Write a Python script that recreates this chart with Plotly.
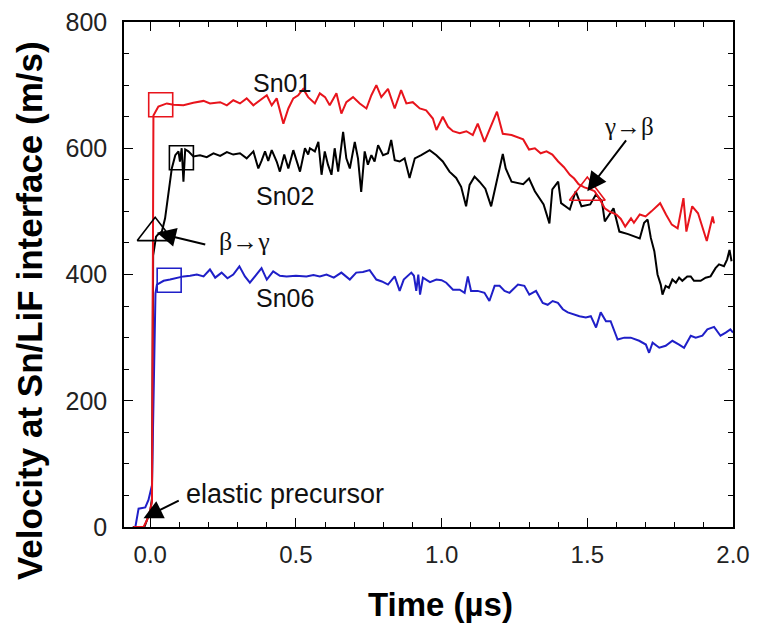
import plotly.graph_objects as go

# ---------------- data ----------------
sn01_t = [-0.058, -0.023, -0.011, 0.0, 0.006, 0.009, 0.011, 0.028, 0.057, 0.08, 0.114, 0.148, 0.183, 0.205,
          0.24, 0.263, 0.285, 0.308, 0.331, 0.354, 0.377, 0.40, 0.417, 0.434, 0.457, 0.474, 0.491, 0.508,
          0.525, 0.542, 0.565, 0.582, 0.60, 0.616, 0.639, 0.656, 0.673, 0.696, 0.719, 0.742, 0.759, 0.776,
          0.793, 0.816, 0.839, 0.861, 0.879, 0.901, 0.925, 0.947, 0.97, 0.982, 1.004, 1.022, 1.039, 1.062,
          1.085, 1.107, 1.124, 1.147, 1.164, 1.19, 1.21, 1.24, 1.28, 1.30, 1.32, 1.34, 1.36, 1.38, 1.40,
          1.42, 1.44, 1.455, 1.47, 1.49, 1.51, 1.525, 1.54, 1.56, 1.575, 1.60, 1.615, 1.63, 1.65, 1.66,
          1.68, 1.70, 1.72, 1.75, 1.77, 1.79, 1.81, 1.83, 1.84, 1.86, 1.88, 1.91, 1.93, 1.935]
sn01_v = [0, 0, 11, 27, 40, 300, 652, 666, 671, 669, 668, 672, 675, 671,
          673, 668, 676, 671, 679, 668, 676, 684, 668, 679, 639, 663, 679, 684,
          694, 681, 671, 687, 681, 668, 687, 655, 673, 681, 671, 663, 684, 700,
          681, 694, 663, 692, 671, 673, 663, 660, 647, 629, 650, 634, 627, 624,
          627, 621, 639, 610, 629, 658, 623, 621, 614, 598, 600, 592, 595, 590, 579,
          570, 558, 552, 543, 538, 535, 532, 521, 505, 500, 495, 488, 476, 489, 482,
          495, 492, 500, 513, 495, 479, 473, 521, 468, 508, 497, 453, 492, 481]

sn02_t = [-0.06, -0.02, 0.0, 0.006, 0.01, 0.02, 0.028, 0.04, 0.051, 0.063, 0.074, 0.086, 0.097, 0.102,
          0.108, 0.114, 0.12, 0.131, 0.148, 0.171, 0.194, 0.217, 0.24, 0.263, 0.285, 0.308, 0.331, 0.354,
          0.371, 0.382, 0.394, 0.405, 0.417, 0.434, 0.445, 0.46, 0.474, 0.491, 0.502, 0.514, 0.531, 0.542,
          0.548, 0.565, 0.577, 0.588, 0.599, 0.61, 0.622, 0.633, 0.645, 0.662, 0.673, 0.685, 0.702, 0.713,
          0.724, 0.736, 0.747, 0.759, 0.77, 0.782, 0.799, 0.816, 0.827, 0.839, 0.856, 0.873, 0.89, 0.908,
          0.93, 0.959, 0.982, 1.004, 1.027, 1.05, 1.067, 1.084, 1.096, 1.113, 1.13, 1.15, 1.17, 1.21, 1.22,
          1.24, 1.28, 1.30, 1.32, 1.35, 1.37, 1.38, 1.40, 1.41, 1.44, 1.46, 1.48, 1.51, 1.53, 1.55, 1.56,
          1.59, 1.61, 1.64, 1.68, 1.695, 1.707, 1.718, 1.73, 1.741, 1.752, 1.758, 1.769, 1.78, 1.792,
          1.804, 1.815, 1.826, 1.843, 1.855, 1.866, 1.889, 1.906, 1.923, 1.94, 1.952, 1.969, 1.98, 1.988,
          1.995]
sn02_v = [0, 0, 25, 45, 430, 460, 464, 468, 489, 526, 568, 589, 595, 579,
          600, 547, 598, 595, 587, 589, 586, 592, 588, 594, 590, 592, 584, 595,
          568, 580, 595, 580, 597, 579, 563, 590, 568, 597, 580, 563, 600, 590,
          600, 595, 610, 558, 595, 574, 558, 600, 563, 626, 584, 568, 610, 584,
          531, 595, 574, 589, 579, 605, 589, 592, 613, 581, 579, 584, 553, 584,
          589, 597, 589, 579, 563, 553, 539, 508, 542, 555, 547, 536, 508, 591, 568,
          547, 543, 552, 532, 511, 481, 535, 547, 513, 503, 532, 508, 511, 527, 516, 484,
          505, 468, 464, 457, 482, 487, 458, 437, 400, 384, 368, 382, 379, 392,
          387, 395, 390, 397, 397, 390, 390, 395, 397, 410, 416, 413, 424, 439,
          421]

sn06_t = [-0.051, -0.04, -0.017, -0.006, 0.006, 0.012, 0.018, 0.023, 0.046, 0.068, 0.091, 0.114, 0.137,
          0.16, 0.183, 0.205, 0.223, 0.245, 0.265, 0.285, 0.306, 0.325, 0.342, 0.36, 0.382, 0.40, 0.422,
          0.445, 0.468, 0.5, 0.536, 0.56, 0.582, 0.605, 0.63, 0.656, 0.685, 0.707, 0.73, 0.753, 0.776,
          0.795, 0.816, 0.839, 0.856, 0.87, 0.896, 0.905, 0.913, 0.92, 0.926, 0.936, 0.96, 0.982, 1.0,
          1.016, 1.039, 1.062, 1.079, 1.09, 1.101, 1.124, 1.147, 1.164, 1.182, 1.199, 1.216, 1.233, 1.262,
          1.284, 1.301, 1.324, 1.347, 1.364, 1.381, 1.399, 1.416, 1.433, 1.45, 1.473, 1.495, 1.512, 1.53,
          1.546, 1.564, 1.58, 1.604, 1.627, 1.649, 1.678, 1.701, 1.712, 1.724, 1.747, 1.769, 1.792, 1.815,
          1.832, 1.855, 1.872, 1.895, 1.912, 1.935, 1.957, 1.975, 1.991, 2.0]
sn06_v = [0, 29, 31, 43, 66, 200, 370, 384, 390, 392, 395, 397, 398,
          400, 397, 408, 395, 403, 394, 400, 413, 397, 387, 397, 410, 392, 405,
          398, 397, 398, 397, 399, 397, 400, 395, 403, 392, 403, 404, 407, 392,
          389, 384, 397, 374, 392, 403, 398, 374, 400, 368, 395, 388, 392, 391,
          387, 376, 376, 371, 397, 374, 374, 371, 358, 382, 382, 374, 371, 384,
          382, 368, 374, 355, 352, 358, 355, 345, 340, 337, 334, 332, 334, 316,
          340, 326, 326, 297, 300, 300, 295, 289, 276, 292, 284, 287, 295, 289,
          284, 303, 300, 303, 313, 317, 303, 308, 313, 308]

# open-square markers (start of plateau) and phase-transition triangles
square_t = [0.036, 0.107, 0.065]
square_v = [669, 585, 391]
square_colors = ["#e8141c", "#000000", "#1f1fc8"]
triangle_t = [0.017, 1.50]
triangle_v = [466, 530]
triangle_colors = ["#000000", "#e8141c"]

x_ticks = [0.0, 0.5, 1.0, 1.5, 2.0]
x_tick_labels = ["0.0", "0.5", "1.0", "1.5", "2.0"]
y_ticks = [0, 200, 400, 600, 800]
y_tick_labels = ["0", "200", "400", "600", "800"]

RED = "#e8141c"
BLUE = "#1f1fc8"
FONT = "Arial, Liberation Sans, Helvetica, sans-serif"
SERIF = "Times New Roman, Liberation Serif, DejaVu Serif, serif"

fig = go.Figure()
fig.add_trace(go.Scatter(x=sn02_t, y=sn02_v, mode="lines", line=dict(color="black", width=2), name="Sn02"))
fig.add_trace(go.Scatter(x=sn06_t, y=sn06_v, mode="lines", line=dict(color=BLUE, width=2), name="Sn06"))
fig.add_trace(go.Scatter(x=sn01_t, y=sn01_v, mode="lines", line=dict(color=RED, width=2), name="Sn01"))
fig.add_trace(go.Scatter(x=square_t, y=square_v, mode="markers",
                         marker=dict(symbol="square-open", size=24, color=square_colors, line=dict(width=1.6))))
fig.add_trace(go.Scatter(x=triangle_t, y=triangle_v, mode="markers",
                         marker=dict(symbol="triangle-up-open", size=31, color=triangle_colors, line=dict(width=1.6))))

labels = [("Sn01", 0.452, 703), ("Sn02", 0.462, 524), ("Sn06", 0.462, 363)]
for txt, tx, ty in labels:
    fig.add_annotation(x=tx, y=ty, text=txt, showarrow=False, font=dict(family=FONT, size=25, color="#111"))

fig.add_annotation(x=0.462, y=52, text="elastic precursor", showarrow=False,
                   font=dict(family=FONT, size=27, color="#111"))
fig.add_annotation(x=0.325, y=453, text="β→γ", showarrow=False, font=dict(family=SERIF, size=26, color="#111"))
fig.add_annotation(x=1.644, y=634, text="γ→β", showarrow=False, font=dict(family=SERIF, size=25, color="#111"))

arrows = [(-0.023, 14, 0.103, 43), (0.023, 466, 0.194, 447), (1.50, 532, 1.637, 615)]
for x0, y0, x1, y1 in arrows:
    fig.add_annotation(x=x0, y=y0, ax=x1, ay=y1, xref="x", yref="y", axref="x", ayref="y",
                       text="", showarrow=True, arrowhead=2, arrowsize=1.9, arrowwidth=2,
                       arrowcolor="black", standoff=0)

# axis titles (placed as paper-anchored text to match the original's offsets)
fig.add_annotation(x=-0.154, y=0.428, xref="paper", yref="paper", text="<b>Velocity at Sn/LiF interface (m/s)</b>",
                   textangle=-90, showarrow=False, xanchor="center", yanchor="middle",
                   font=dict(family=FONT, size=35, color="black"))
fig.add_annotation(x=0.519, y=-0.154, xref="paper", yref="paper", text="<b>Time (µs)</b>",
                   showarrow=False, xanchor="center", yanchor="middle",
                   font=dict(family=FONT, size=33, color="black"))

axis_common = dict(showline=True, linecolor="black", linewidth=1.5, mirror="ticks",
                   ticks="inside", tickcolor="black", tickwidth=1.3, ticklen=9,
                   showgrid=False, zeroline=False, automargin=False, ticklabeloverflow="allow")

fig.update_xaxes(range=[-0.09, 2.0], tickvals=x_ticks, ticktext=x_tick_labels,
                 tickfont=dict(family=FONT, size=24, color="#222"),
                 minor=dict(dtick=0.1, tick0=0, ticks="inside", ticklen=5, tickcolor="black", tickwidth=1.2),
                 ticklabelstandoff=5, **axis_common)
fig.update_yaxes(range=[0, 800], tickvals=y_ticks, ticktext=y_tick_labels,
                 tickfont=dict(family=FONT, size=25, color="#222"),
                 minor=dict(dtick=50, tick0=0, ticks="inside", ticklen=5, tickcolor="black", tickwidth=1.2),
                 ticklabelstandoff=10, **axis_common)

fig.update_layout(width=750, height=618, margin=dict(l=116, r=25, t=14, b=99),
                  paper_bgcolor="white", plot_bgcolor="white", showlegend=False)

fig.write_html("out.html")
